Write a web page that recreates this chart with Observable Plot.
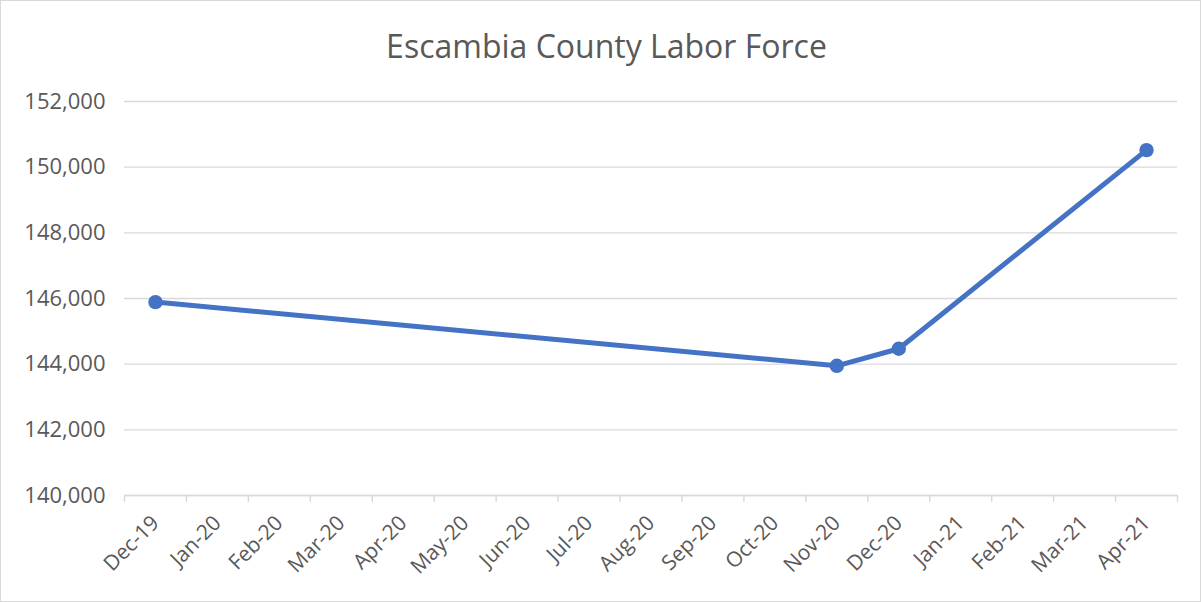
<!DOCTYPE html>
<html>
<head>
<meta charset="utf-8">
<script src="https://cdn.jsdelivr.net/npm/d3@7"></script>
<script src="https://cdn.jsdelivr.net/npm/@observablehq/plot@0.6"></script>
<style>
  html, body { margin: 0; padding: 0; background: #fff; }
  #wrap { position: relative; width: 1201px; height: 602px; overflow: hidden; background: #fff; }
  #frame { position: absolute; left: 0; top: 0; width: 1201px; height: 602px; box-sizing: border-box; border: 1px solid #d9d9d9; pointer-events: none; }
  #title { position: absolute; left: 6px; top: 23px; width: 1201px; text-align: center; font-family: "Open Sans", sans-serif; font-size: 32px; color: #595959; line-height: 46px; }
  #chart { position: absolute; left: 0; top: 0; }
</style>
</head>
<body>
<div id="wrap">
  <div id="chart"></div>
  <div id="title">Escambia County Labor Force</div>
  <div id="frame"></div>
</div>
<script>
const months = ["Dec-19","Jan-20","Feb-20","Mar-20","Apr-20","May-20","Jun-20","Jul-20","Aug-20","Sep-20","Oct-20","Nov-20","Dec-20","Jan-21","Feb-21","Mar-21","Apr-21"];
const pointMonths = ["Dec-19","Nov-20","Dec-20","Apr-21"];
const laborForce = [145890, 143950, 144470, 150520];
const yTicks = [140000, 142000, 144000, 146000, 148000, 150000, 152000];

const data = pointMonths.map((m, i) => ({month: m, idx: months.indexOf(m), value: laborForce[i]}));
const centers = months.map((m, i) => i);
const bounds = months.map((m, i) => i - 0.5).concat([months.length - 0.5]);

const blue = "#4472c4";
const grey = "#d9d9d9";

const plot = Plot.plot({
  width: 1201,
  height: 602,
  marginTop: 101,
  marginBottom: 107,
  marginLeft: 124,
  marginRight: 24,
  style: {fontFamily: "Open Sans, sans-serif", fontSize: "21px", color: "#595959", background: "transparent"},
  x: {type: "linear", domain: [-0.5, months.length - 0.5]},
  y: {domain: [yTicks[0], yTicks[yTicks.length - 1]]},
  marks: [
    Plot.gridY(yTicks, {stroke: grey, strokeOpacity: 1, strokeWidth: 1.4}),
    Plot.ruleY([yTicks[0]], {stroke: grey, strokeWidth: 1.6}),
    Plot.axisY(yTicks, {tickSize: 0, tickPadding: 19, tickFormat: d3.format(","), label: null, fontSize: 22}),
    Plot.axisX(bounds, {tickSize: 7, stroke: grey, strokeWidth: 1.4, tickFormat: () => "", label: null}),
    Plot.axisX(centers, {tickSize: 0, tickPadding: 24, tickRotate: -45, tickFormat: i => months[i], label: null, fontSize: 21}),
    Plot.line(data, {x: "idx", y: "value", stroke: blue, strokeWidth: 5, strokeLinejoin: "round", strokeLinecap: "round"}),
    Plot.dot(data, {x: "idx", y: "value", r: 7.2, fill: blue, stroke: "none"})
  ]
});
document.getElementById("chart").appendChild(plot);
</script>
</body>
</html>
